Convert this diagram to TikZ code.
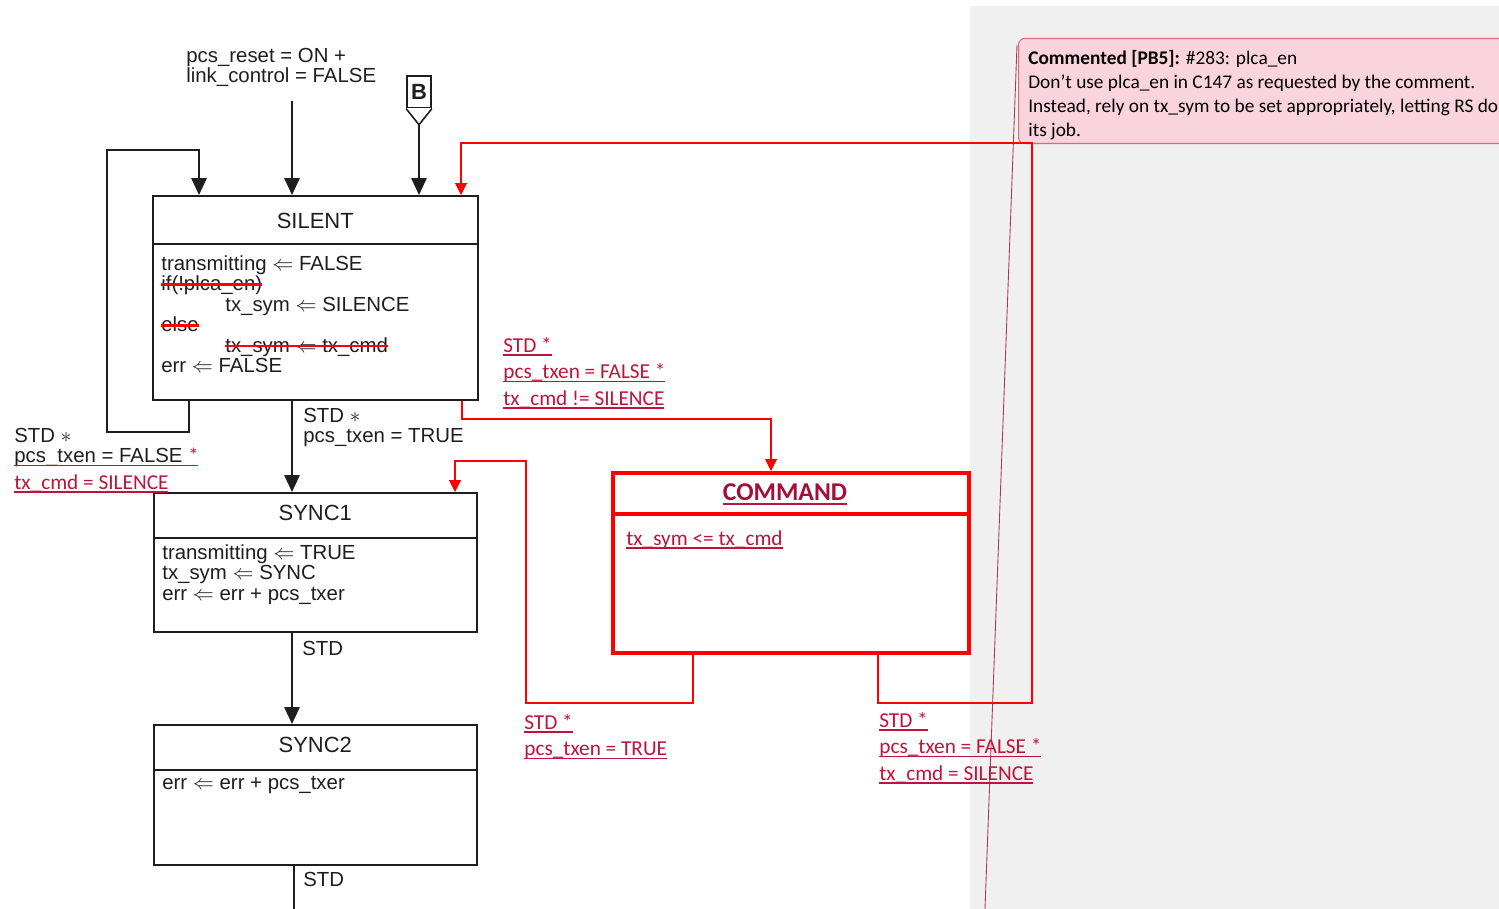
\documentclass[tikz,border=0pt]{standalone}
\usepackage{fontspec}
\setmainfont{Liberation Sans}
\newfontfamily\calibri{Carlito}
\usetikzlibrary{arrows.meta,positioning,calc}

\definecolor{tcred}{RGB}{190,20,60}
\definecolor{linered}{RGB}{255,0,0}
\definecolor{cmdtitle}{RGB}{165,15,55}
\definecolor{cmtfill}{RGB}{250,212,220}
\definecolor{cmtdraw}{RGB}{205,110,130}
\definecolor{cmtline}{RGB}{170,60,90}
\definecolor{panegray}{RGB}{240,240,240}
\definecolor{ink}{RGB}{30,30,30}

\newsavebox{\markbox}
\newcommand{\redstrike}[1]{\sbox\markbox{#1}\usebox\markbox\llap{\textcolor{linered}{\rule[0.45ex]{\wd\markbox}{1.7pt}}}}
\newcommand{\redline}[1]{\sbox\markbox{#1}\usebox\markbox\llap{\textcolor{tcred}{\rule[-0.35ex]{\wd\markbox}{1pt}}}}

\begin{document}
\begin{tikzpicture}[
  x=0.02cm, y=-0.02cm,
  statebox/.style={rectangle, draw=ink, line width=0.9pt, inner sep=0pt, fill=white},
  cmdbox/.style={rectangle, draw=linered, line width=0.08cm, inner sep=0pt, fill=white},
  statetitle/.style={inner sep=0pt, font=\fontsize{12.5}{14}\selectfont, text=ink},
  statebody/.style={inner sep=0pt, align=left, font=\fontsize{11.6}{11.7}\selectfont, text=ink},
  tlabel/.style={inner sep=0pt, align=left, font=\fontsize{11.6}{11.4}\selectfont, text=ink},
  redlabel/.style={inner sep=0pt, align=left, font=\calibri\fontsize{12.1}{15}\selectfont, text=tcred},
  divider/.style={draw=ink, line width=0.9pt},
  arr/.style={draw=ink, line width=0.9pt, -{Triangle[length=0.34cm,width=0.31cm]}},
  redarr/.style={draw=linered, line width=0.6pt, -{Triangle[length=0.24cm,width=0.24cm]}},
  cmtbox/.style={rectangle, rounded corners=0.12cm, draw=cmtdraw, fill=cmtfill, line width=0.6pt},
  cmttext/.style={inner sep=0pt, align=left, font=\calibri\fontsize{11}{13.7}\selectfont, text=black}
]
% canvas and comment pane
\useasboundingbox (0,0) rectangle (1499,909);
\clip (0,0) rectangle (1499,909);
\fill[panegray] (970,6) rectangle (1499,909);
\draw[cmtline, line width=0.5pt] (1017,45) -- (985,909);
\node[cmtbox, anchor=north west, minimum width=10cm, minimum height=2.1cm] (cmtbox) at (1018,38) {};
\node[cmttext, anchor=north west] (cmt) at (1028,50)
  {\textbf{Commented [PB5]:} \#283: plca\_en\\
   Don’t use plca\_en in C147 as requested by the comment.\\
   Instead, rely on tx\_sym to be set appropriately, letting RS do\\
   its job.};

% States
\node[statebox, anchor=north west, minimum width=6.5cm, minimum height=4.08cm] (silent) at (152,195) {};
\node[statetitle, below=0.36cm of silent.north] (silentT) {SILENT};
\draw[divider] ([yshift=-0.98cm]silent.north west) -- ([yshift=-0.98cm]silent.north east);
\node[statebody, anchor=north west] (silentB) at ([xshift=0.18cm,yshift=-1.2cm]silent.north west)
  {transmitting $\Leftarrow$ FALSE\\
   \redstrike{if(!plca\_en)}\\
   \hspace*{1.28cm}tx\_sym $\Leftarrow$ SILENCE\\
   \redstrike{else}\\
   \hspace*{1.28cm}\redstrike{tx\_sym $\Leftarrow$ tx\_cmd}\\
   err $\Leftarrow$ FALSE};

\node[statebox, anchor=north west, minimum width=6.46cm, minimum height=2.78cm] (sync1) at (153,492) {};
\node[statetitle, below=0.26cm of sync1.north] (sync1T) {SYNC1};
\draw[divider] ([yshift=-0.92cm]sync1.north west) -- ([yshift=-0.92cm]sync1.north east);
\node[statebody, anchor=north west] (sync1B) at ([xshift=0.18cm,yshift=-1.04cm]sync1.north west)
  {transmitting $\Leftarrow$ TRUE\\
   tx\_sym $\Leftarrow$ SYNC\\
   err $\Leftarrow$ err + pcs\_txer};

\node[statebox, anchor=north west, minimum width=6.46cm, minimum height=2.8cm] (sync2) at (153,724) {};
\node[statetitle, below=0.26cm of sync2.north] (sync2T) {SYNC2};
\draw[divider] ([yshift=-0.92cm]sync2.north west) -- ([yshift=-0.92cm]sync2.north east);
\node[statebody, anchor=north west] (sync2B) at ([xshift=0.18cm,yshift=-1.04cm]sync2.north west)
  {err $\Leftarrow$ err + pcs\_txer};

\node[cmdbox, anchor=north west, minimum width=7.12cm, minimum height=3.6cm] (command) at (611,471) {};
\node[font=\calibri\bfseries\fontsize{14.6}{16}\selectfont, text=cmdtitle, inner sep=0pt] (commandT) at (785,494) {\redline{COMMAND}};
\draw[draw=linered, line width=0.08cm] ([yshift=-0.87cm]command.north west) -- ([yshift=-0.87cm]command.north east);
\node[redlabel, anchor=north west] (commandB) at ([xshift=0.3cm,yshift=-1.18cm]command.north west)
  {\redline{tx\_sym <= tx\_cmd}};

% Entry points
\node[tlabel, anchor=north west] (reset) at (186,48) {pcs\_reset = ON +\\link\_control = FALSE};
\node[draw=ink, fill=white, line width=0.9pt, minimum width=0.48cm, minimum height=0.64cm, inner sep=0pt] (B) at (419,92) {};
\coordinate (Btip) at ([yshift=-0.32cm]B.south);
\fill[white] (B.south west) -- (B.south east) -- (Btip) -- cycle;
\draw[white, line width=1.2pt] ([xshift=0.6pt]B.south west) -- ([xshift=-0.6pt]B.south east);
\draw[ink, line width=0.9pt] (B.south west) -- (Btip) -- (B.south east);
\node[font=\bfseries\fontsize{12.5}{12.5}\selectfont, text=ink, inner sep=0pt] (Bt) at (B.center) {B};

% Connector corners
\coordinate (main) at (292,101);
\coordinate (loopA) at (189,432);
\coordinate (loopB) at (107,150);
\coordinate (loopC) at (199,150);
\coordinate (toCmd) at (462,419);
\coordinate (cmdIn) at (771,419);
\coordinate (fromCmdA) at (693,703);
\coordinate (fromCmdB) at (526,461);
\coordinate (sync1In) at (455,461);
\coordinate (fromCmdC) at (878,703);
\coordinate (fromCmdD) at (1032,143);
\coordinate (silentIn) at (461,143);
\coordinate (exit) at (294,909);

% Black transitions
\draw[arr] (main) -- (silent.north -| main);
\draw[arr] (Btip) -- (silent.north -| Btip);
\draw[arr] (silent.south -| loopA) -- (loopA) -| (loopB) -- (loopC) -- (silent.north -| loopC);
\draw[arr] (silent.south -| main) -- (sync1.north -| main);
\draw[arr] (sync1.south -| main) -- (sync2.north -| main);
\draw[divider] (sync2.south -| exit) -- (exit);

% Red transitions
\draw[redarr] (silent.south -| toCmd) -- (toCmd) -- (cmdIn) -- (command.north -| cmdIn);
\draw[redarr] (command.south -| fromCmdA) -- (fromCmdA) -| (fromCmdB) -- (sync1In) -- (sync1.north -| sync1In);
\draw[redarr] (command.south -| fromCmdC) -- (fromCmdC) -| (fromCmdD) -- (silentIn) -- (silent.north -| silentIn);

% Transition labels
\node[tlabel, anchor=north west] (loopL) at (14,428)
  {STD $\ast$\\
   \redline{pcs\_txen = FALSE {\calibri\color{tcred}*}}\\[4pt]
   {\calibri\fontsize{12.1}{15}\selectfont\color{tcred}\redline{tx\_cmd = SILENCE}}};
\node[tlabel, anchor=north west] (txenL) at (303,408) {STD $\ast$\\pcs\_txen = TRUE};
\node[tlabel, anchor=north west] (std1L) at (302,641) {STD};
\node[tlabel, anchor=north west] (std2L) at (303,872) {STD};
\node[redlabel, anchor=north west] (toCmdL) at (503,337)
  {\redline{STD *}\\\redline{pcs\_txen = FALSE *}\\\redline{tx\_cmd != SILENCE}};
\node[redlabel, anchor=north west] (toSyncL) at (524,714)
  {\redline{STD *}\\\redline{pcs\_txen = TRUE}};
\node[redlabel, anchor=north west] (toSilentL) at (879,712)
  {\redline{STD *}\\\redline{pcs\_txen = FALSE *}\\\redline{tx\_cmd = SILENCE}};
\end{tikzpicture}
\end{document}
